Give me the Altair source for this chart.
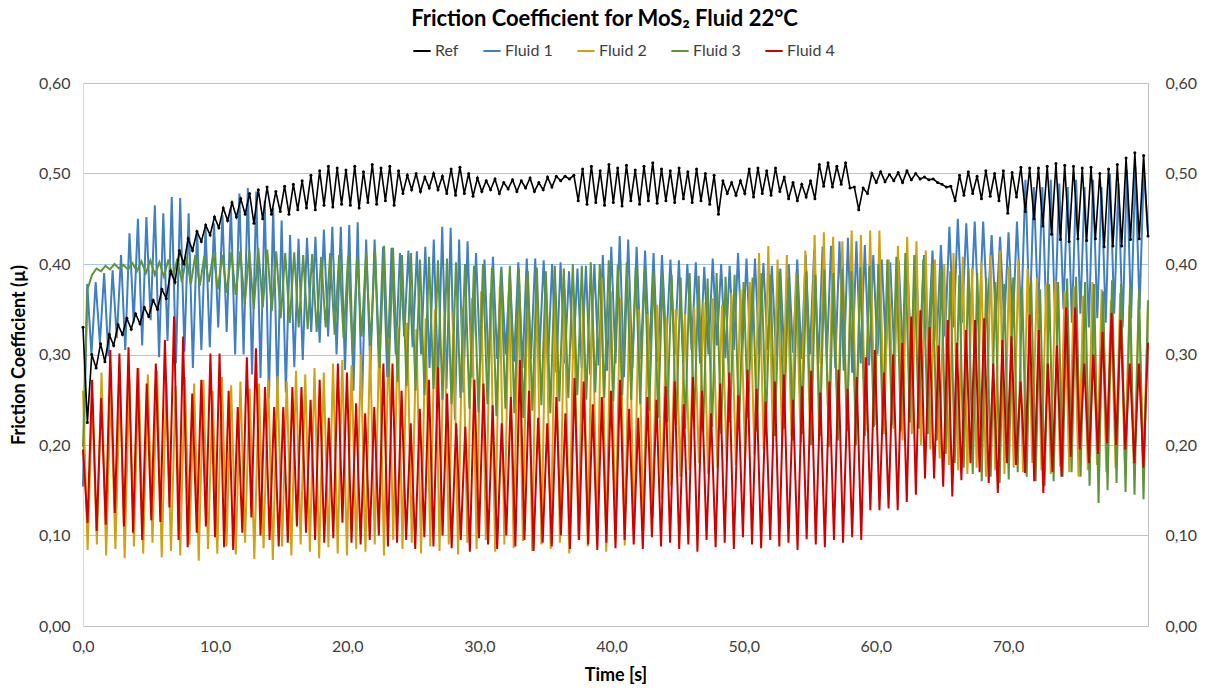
import altair as alt
import pandas as pd

END_T = 80.6

ref_vals = [
    0.330, 0.225, 0.300, 0.285, 0.312, 0.292, 0.322, 0.310, 0.333, 0.322, 0.340, 0.328, 0.345, 0.334, 0.352, 0.342, 0.360, 0.350, 0.372, 0.362,
    0.392, 0.380, 0.415, 0.400, 0.428, 0.415, 0.436, 0.425, 0.443, 0.432, 0.452, 0.440, 0.462, 0.448, 0.468, 0.452, 0.472, 0.455, 0.478, 0.445,
    0.482, 0.450, 0.485, 0.455, 0.480, 0.458, 0.486, 0.455, 0.488, 0.460, 0.492, 0.462, 0.498, 0.460, 0.503, 0.465, 0.508, 0.463, 0.506, 0.466,
    0.504, 0.465, 0.508, 0.462, 0.502, 0.468, 0.510, 0.466, 0.506, 0.470, 0.508, 0.465, 0.503, 0.478, 0.498, 0.482, 0.500, 0.480, 0.496, 0.484,
    0.500, 0.482, 0.497, 0.478, 0.505, 0.476, 0.507, 0.478, 0.500, 0.475, 0.495, 0.480, 0.492, 0.482, 0.494, 0.478, 0.490, 0.483, 0.493, 0.480,
    0.492, 0.484, 0.495, 0.480, 0.490, 0.482, 0.496, 0.485, 0.497, 0.492, 0.497, 0.494, 0.498, 0.470, 0.505, 0.466, 0.508, 0.468, 0.503, 0.465,
    0.510, 0.468, 0.506, 0.464, 0.509, 0.470, 0.504, 0.466, 0.508, 0.470, 0.512, 0.467, 0.505, 0.470, 0.503, 0.468, 0.506, 0.472, 0.502, 0.468,
    0.505, 0.470, 0.500, 0.466, 0.498, 0.455, 0.492, 0.478, 0.490, 0.476, 0.492, 0.478, 0.505, 0.474, 0.506, 0.478, 0.503, 0.476, 0.506, 0.480,
    0.496, 0.472, 0.490, 0.470, 0.488, 0.474, 0.492, 0.472, 0.510, 0.486, 0.512, 0.485, 0.508, 0.488, 0.512, 0.484, 0.485, 0.460, 0.484, 0.478,
    0.500, 0.490, 0.502, 0.491, 0.499, 0.492, 0.501, 0.490, 0.503, 0.493, 0.500, 0.494, 0.496, 0.493, 0.494, 0.490, 0.488, 0.485, 0.486, 0.470,
    0.498, 0.476, 0.502, 0.478, 0.497, 0.472, 0.503, 0.475, 0.500, 0.470, 0.503, 0.456, 0.501, 0.474, 0.507, 0.458, 0.506, 0.450, 0.506, 0.442,
    0.508, 0.433, 0.511, 0.427, 0.509, 0.425, 0.508, 0.428, 0.506, 0.426, 0.507, 0.428, 0.500, 0.419, 0.505, 0.420, 0.510, 0.420, 0.517, 0.427,
    0.523, 0.428, 0.520, 0.431,
]

fluid1_vals = [
    0.154, 0.378, 0.300, 0.380, 0.312, 0.390, 0.298, 0.393, 0.318, 0.410, 0.305, 0.434, 0.335, 0.450, 0.310, 0.452, 0.338, 0.465, 0.297, 0.456,
    0.315, 0.474, 0.290, 0.473, 0.303, 0.456, 0.285, 0.437, 0.305, 0.441, 0.308, 0.445, 0.330, 0.454, 0.325, 0.463, 0.300, 0.478, 0.300, 0.484,
    0.278, 0.480, 0.274, 0.470, 0.252, 0.462, 0.255, 0.448, 0.258, 0.432, 0.286, 0.428, 0.294, 0.429, 0.325, 0.430, 0.313, 0.438, 0.320, 0.441,
    0.300, 0.441, 0.283, 0.443, 0.260, 0.446, 0.242, 0.427, 0.283, 0.427, 0.290, 0.419, 0.275, 0.418, 0.300, 0.412, 0.320, 0.415, 0.308, 0.414,
    0.300, 0.419, 0.285, 0.427, 0.270, 0.441, 0.262, 0.440, 0.228, 0.427, 0.258, 0.425, 0.275, 0.412, 0.290, 0.405, 0.282, 0.408, 0.295, 0.397,
    0.300, 0.390, 0.292, 0.402, 0.285, 0.406, 0.295, 0.406, 0.300, 0.404, 0.288, 0.400, 0.280, 0.402, 0.290, 0.392, 0.295, 0.395, 0.285, 0.398,
    0.278, 0.400, 0.288, 0.410, 0.282, 0.419, 0.290, 0.431, 0.275, 0.427, 0.285, 0.419, 0.295, 0.415, 0.300, 0.412, 0.292, 0.410, 0.310, 0.405,
    0.300, 0.404, 0.292, 0.400, 0.305, 0.402, 0.290, 0.397, 0.300, 0.406, 0.310, 0.400, 0.296, 0.398, 0.305, 0.412, 0.300, 0.406, 0.292, 0.406,
    0.300, 0.401, 0.305, 0.398, 0.298, 0.395, 0.290, 0.400, 0.302, 0.405, 0.295, 0.410, 0.300, 0.415, 0.290, 0.419, 0.296, 0.420, 0.285, 0.425,
    0.282, 0.429, 0.280, 0.425, 0.290, 0.421, 0.288, 0.410, 0.300, 0.405, 0.305, 0.402, 0.296, 0.404, 0.300, 0.406, 0.297, 0.410, 0.305, 0.410,
    0.310, 0.415, 0.315, 0.421, 0.320, 0.441, 0.330, 0.450, 0.335, 0.445, 0.340, 0.447, 0.330, 0.447, 0.345, 0.432, 0.340, 0.430, 0.335, 0.435,
    0.330, 0.447, 0.340, 0.493, 0.335, 0.485, 0.345, 0.485, 0.330, 0.493, 0.340, 0.489, 0.350, 0.485, 0.335, 0.493, 0.345, 0.485, 0.330, 0.493,
    0.340, 0.485, 0.335, 0.500, 0.345, 0.489, 0.330, 0.504, 0.340, 0.507, 0.350, 0.504, 0.434,
]

fluid2_vals = [
    0.260, 0.084, 0.250, 0.090, 0.280, 0.078, 0.262, 0.085, 0.270, 0.075, 0.275, 0.088, 0.285, 0.080, 0.278, 0.092, 0.282, 0.076, 0.270, 0.083,
    0.265, 0.078, 0.275, 0.090, 0.268, 0.072, 0.272, 0.085, 0.260, 0.080, 0.275, 0.088, 0.266, 0.079, 0.270, 0.092, 0.262, 0.074, 0.268, 0.086,
    0.272, 0.073, 0.276, 0.088, 0.270, 0.078, 0.282, 0.090, 0.278, 0.082, 0.285, 0.075, 0.280, 0.087, 0.290, 0.080, 0.294, 0.078, 0.288, 0.085,
    0.300, 0.082, 0.310, 0.090, 0.322, 0.078, 0.318, 0.095, 0.330, 0.085, 0.335, 0.092, 0.328, 0.080, 0.340, 0.088, 0.350, 0.083, 0.345, 0.090,
    0.348, 0.079, 0.352, 0.092, 0.362, 0.085, 0.370, 0.095, 0.368, 0.082, 0.375, 0.090, 0.378, 0.086, 0.372, 0.094, 0.385, 0.083, 0.380, 0.090,
    0.376, 0.085, 0.368, 0.092, 0.372, 0.080, 0.360, 0.095, 0.365, 0.088, 0.375, 0.090, 0.385, 0.082, 0.370, 0.094, 0.362, 0.089, 0.355, 0.098,
    0.350, 0.105, 0.345, 0.120, 0.355, 0.140, 0.340, 0.155, 0.350, 0.165, 0.345, 0.172, 0.352, 0.180, 0.358, 0.168, 0.362, 0.175, 0.355, 0.182,
    0.368, 0.178, 0.372, 0.185, 0.380, 0.190, 0.412, 0.195, 0.420, 0.205, 0.405, 0.198, 0.410, 0.210, 0.390, 0.202, 0.415, 0.212, 0.432, 0.205,
    0.435, 0.215, 0.430, 0.220, 0.425, 0.218, 0.437, 0.225, 0.432, 0.215, 0.437, 0.222, 0.437, 0.212, 0.405, 0.218, 0.420, 0.205, 0.430, 0.212,
    0.425, 0.200, 0.415, 0.195, 0.405, 0.185, 0.400, 0.178, 0.412, 0.172, 0.408, 0.168, 0.395, 0.175, 0.402, 0.165, 0.410, 0.172, 0.415, 0.168,
    0.398, 0.175, 0.405, 0.170, 0.395, 0.180, 0.385, 0.172, 0.378, 0.168, 0.382, 0.176, 0.370, 0.170, 0.375, 0.165, 0.365, 0.172, 0.380, 0.178,
    0.372, 0.170, 0.360, 0.175, 0.368, 0.180, 0.355, 0.172, 0.362, 0.178, 0.352,
]

fluid3_vals = [
    0.198, 0.372, 0.388, 0.395, 0.392, 0.398, 0.394, 0.400, 0.395, 0.399, 0.394, 0.401, 0.392, 0.403, 0.390, 0.404, 0.388, 0.402, 0.386, 0.405,
    0.385, 0.406, 0.380, 0.408, 0.378, 0.410, 0.376, 0.409, 0.380, 0.412, 0.372, 0.410, 0.368, 0.413, 0.366, 0.414, 0.355, 0.415, 0.350, 0.418,
    0.352, 0.416, 0.348, 0.414, 0.340, 0.412, 0.335, 0.413, 0.330, 0.410, 0.328, 0.411, 0.325, 0.408, 0.330, 0.412, 0.322, 0.410, 0.318, 0.409,
    0.300, 0.408, 0.320, 0.412, 0.310, 0.415, 0.285, 0.420, 0.275, 0.418, 0.270, 0.410, 0.265, 0.412, 0.260, 0.405, 0.255, 0.408, 0.262, 0.404,
    0.250, 0.406, 0.245, 0.402, 0.252, 0.400, 0.240, 0.398, 0.236, 0.400, 0.245, 0.396, 0.232, 0.394, 0.240, 0.398, 0.235, 0.395, 0.230, 0.392,
    0.238, 0.396, 0.244, 0.392, 0.235, 0.398, 0.248, 0.395, 0.252, 0.400, 0.255, 0.398, 0.250, 0.402, 0.258, 0.400, 0.252, 0.404, 0.248, 0.399,
    0.255, 0.402, 0.250, 0.397, 0.245, 0.395, 0.238, 0.392, 0.230, 0.390, 0.225, 0.388, 0.222, 0.385, 0.218, 0.390, 0.225, 0.387, 0.215, 0.384,
    0.220, 0.390, 0.212, 0.386, 0.225, 0.388, 0.218, 0.380, 0.230, 0.385, 0.215, 0.390, 0.222, 0.388, 0.210, 0.392, 0.218, 0.386, 0.205, 0.390,
    0.212, 0.392, 0.200, 0.388, 0.210, 0.394, 0.198, 0.390, 0.205, 0.395, 0.215, 0.392, 0.200, 0.396, 0.210, 0.398, 0.220, 0.400, 0.215, 0.405,
    0.222, 0.408, 0.215, 0.412, 0.225, 0.410, 0.218, 0.405, 0.212, 0.400, 0.205, 0.395, 0.190, 0.392, 0.180, 0.388, 0.175, 0.395, 0.168, 0.390,
    0.160, 0.385, 0.165, 0.380, 0.158, 0.378, 0.162, 0.385, 0.170, 0.375, 0.165, 0.382, 0.160, 0.372, 0.155, 0.378, 0.160, 0.380, 0.165, 0.384,
    0.170, 0.386, 0.165, 0.380, 0.155, 0.378, 0.136, 0.370, 0.150, 0.382, 0.158, 0.378, 0.148, 0.375, 0.145, 0.372, 0.140, 0.360,
]

fluid4_vals = [
    0.195, 0.114, 0.272, 0.105, 0.252, 0.112, 0.305, 0.125, 0.301, 0.110, 0.308, 0.103, 0.285, 0.095, 0.268, 0.117, 0.290, 0.115, 0.316, 0.131,
    0.342, 0.095, 0.320, 0.087, 0.257, 0.103, 0.272, 0.110, 0.301, 0.098, 0.301, 0.087, 0.260, 0.084, 0.242, 0.103, 0.297, 0.120, 0.307, 0.100,
    0.264, 0.095, 0.242, 0.088, 0.242, 0.092, 0.264, 0.110, 0.264, 0.103, 0.250, 0.095, 0.272, 0.092, 0.230, 0.097, 0.290, 0.114, 0.280, 0.092,
    0.246, 0.090, 0.235, 0.095, 0.242, 0.100, 0.290, 0.088, 0.290, 0.092, 0.260, 0.095, 0.224, 0.085, 0.240, 0.098, 0.272, 0.088, 0.286, 0.100,
    0.257, 0.086, 0.224, 0.095, 0.220, 0.082, 0.272, 0.097, 0.268, 0.090, 0.244, 0.085, 0.224, 0.100, 0.253, 0.088, 0.294, 0.095, 0.260, 0.083,
    0.230, 0.092, 0.224, 0.088, 0.253, 0.100, 0.235, 0.085, 0.274, 0.095, 0.270, 0.090, 0.245, 0.084, 0.253, 0.092, 0.260, 0.086, 0.272, 0.095,
    0.240, 0.090, 0.230, 0.085, 0.253, 0.098, 0.250, 0.088, 0.265, 0.092, 0.270, 0.085, 0.245, 0.090, 0.275, 0.082, 0.260, 0.095, 0.235, 0.087,
    0.268, 0.092, 0.280, 0.085, 0.255, 0.098, 0.283, 0.090, 0.262, 0.086, 0.248, 0.095, 0.270, 0.088, 0.278, 0.092, 0.250, 0.084, 0.265, 0.096,
    0.282, 0.090, 0.258, 0.087, 0.270, 0.095, 0.283, 0.092, 0.262, 0.098, 0.275, 0.095, 0.297, 0.128, 0.305, 0.128, 0.280, 0.130, 0.300, 0.128,
    0.313, 0.137, 0.342, 0.145, 0.349, 0.163, 0.330, 0.163, 0.310, 0.154, 0.338, 0.143, 0.313, 0.161, 0.327, 0.180, 0.338, 0.170, 0.340, 0.158,
    0.290, 0.147, 0.316, 0.180, 0.320, 0.178, 0.270, 0.169, 0.344, 0.160, 0.327, 0.147, 0.290, 0.170, 0.310, 0.165, 0.352, 0.187, 0.352, 0.195,
    0.290, 0.180, 0.300, 0.190, 0.325, 0.202, 0.346, 0.200, 0.338, 0.195, 0.290, 0.180, 0.290, 0.175, 0.313,
]

series_names = ["Ref", "Fluid 1", "Fluid 2", "Fluid 3", "Fluid 4"]
series_colors = ["#000000", "#3F7FC2", "#D1A10E", "#5F9439", "#D00000"]
series_values = [ref_vals, fluid1_vals, fluid2_vals, fluid3_vals, fluid4_vals]
x_ticks = [0, 10, 20, 30, 40, 50, 60, 70]
y_ticks = [0.0, 0.1, 0.2, 0.3, 0.4, 0.5, 0.6]

rows = []
for name, vals in zip(series_names, series_values):
    step = END_T / (len(vals) - 1)
    for i, v in enumerate(vals):
        rows.append({"series": name, "t": round(i * step, 4), "mu": v, "order": i})
df = pd.DataFrame(rows)

FONT = "Lato"

color = alt.Color(
    "series:N",
    scale=alt.Scale(domain=series_names, range=series_colors),
    legend=alt.Legend(
        title=None, orient="none", direction="horizontal",
        legendX=329, legendY=-42, symbolType="stroke", symbolSize=300,
        symbolStrokeWidth=2, labelFontSize=16, labelFont=FONT, labelColor="#404040",
        columnPadding=20, symbolOffset=0, labelOffset=3,
    ),
)

x_enc = alt.X(
    "t:Q",
    scale=alt.Scale(domain=[0, END_T], nice=False, zero=False),
    axis=alt.Axis(
        values=x_ticks, labelExpr="replace(format(datum.value, '.1f'), '.', ',')",
        title="Time [s]", grid=False, ticks=False, domainColor="#BFBFBF",
        labelFontSize=16, labelFont=FONT, labelColor="#404040", labelPadding=12,
        labelFlush=False, titleFontSize=18, titleFont=FONT, titleFontWeight="bold",
        titleColor="#000000", titlePadding=12,
    ),
)

y_scale = alt.Scale(domain=[0, 0.6], nice=False, zero=True)

left_axis = alt.Axis(
    values=y_ticks, labelExpr="replace(format(datum.value, '.2f'), '.', ',')",
    title="Friction Coefficient (µ)", grid=True, gridColor="#A9C7E8", gridWidth=1,
    ticks=False, domainColor="#D9D9D9", labelFontSize=16, labelFont=FONT,
    labelColor="#404040", labelPadding=13, titleFontSize=18, titleFont=FONT,
    titleFontWeight="bold", titleColor="#000000", titlePadding=10,
)
right_axis = alt.Axis(
    values=y_ticks, labelExpr="replace(format(datum.value, '.2f'), '.', ',')",
    title=None, grid=False, orient="right", ticks=False, domainColor="#BFBFBF",
    labelFontSize=16, labelFont=FONT, labelColor="#404040", labelPadding=17,
)

base = alt.Chart(df)


def series_layer(name, width, y_axis):
    return base.transform_filter(alt.datum.series == name).mark_line(
        strokeWidth=width
    ).encode(
        x=x_enc,
        y=alt.Y("mu:Q", scale=y_scale, axis=y_axis),
        color=color,
        order="order:Q",
    )


l1 = series_layer("Fluid 1", 2, left_axis)
l2 = series_layer("Fluid 2", 2, None)
l3 = series_layer("Fluid 3", 2, None)
l4 = series_layer("Fluid 4", 2, None)
lref = base.transform_filter(alt.datum.series == "Ref").mark_line(
    strokeWidth=1.6,
    point=alt.OverlayMarkDef(filled=True, size=9, color="#000000"),
).encode(
    x=x_enc,
    y=alt.Y("mu:Q", scale=y_scale, axis=None),
    color=color,
    order="order:Q",
)
right = base.transform_filter(alt.datum.series == "Ref").mark_line(opacity=0).encode(
    x=x_enc,
    y=alt.Y("mu:Q", scale=y_scale, axis=right_axis),
)

chart = alt.layer(l1, l2, l3, l4, lref, right).resolve_axis(y="independent").properties(
    width=1065,
    height=543,
    padding={"left": 83, "top": 83, "right": 60, "bottom": 63},
    autosize=alt.AutoSizeParams(type="none"),
    title=alt.TitleParams(
        "Friction Coefficient for MoS₂ Fluid 22°C", fontSize=22, font=FONT,
        fontWeight="bold", color="#000000", anchor="middle", offset=10, dx=-11,
    ),
).configure_view(stroke=None).configure(background="white")

chart.save("out.html", embed_options={"renderer": "svg", "actions": False})
